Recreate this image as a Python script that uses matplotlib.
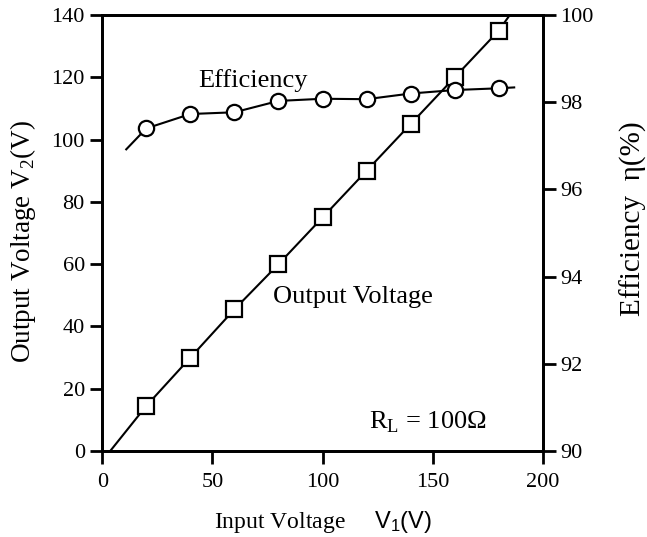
import matplotlib.pyplot as plt

# data
v_in = [20, 40, 60, 80, 100, 120, 140, 160, 180]
v_out = [14.5, 30, 45.5, 60, 75, 90, 105, 120, 135]
eff = [97.40, 97.73, 97.77, 98.03, 98.08, 98.07, 98.20, 98.28, 98.32]

# line extensions beyond the measured points
vout_line_x = [3.6] + v_in + [185]
vout_line_y = [0] + v_out + [140]
eff_line_x = [10.9] + v_in + [187]
eff_line_y = [96.92] + eff + [98.34]

plt.rcParams["font.family"] = ["Liberation Serif", "DejaVu Serif"]
plt.rcParams["mathtext.fontset"] = "custom"
plt.rcParams["mathtext.rm"] = "Liberation Serif"
plt.rcParams["mathtext.sf"] = "Liberation Sans"

fig = plt.figure(figsize=(6.47, 5.37), dpi=100)
ax = fig.add_axes([0.158, 0.160, 0.681, 0.812])
ax2 = ax.twinx()

ax.plot(vout_line_x, vout_line_y, color="black", lw=1.5, zorder=2)
ax.plot(v_in, v_out, ls="none", marker="s", ms=11, mfc="white", mec="black", mew=1.6, zorder=3)

ax2.plot(eff_line_x, eff_line_y, color="black", lw=1.5, zorder=2)
ax2.plot(v_in, eff, ls="none", marker="o", ms=11, mfc="white", mec="black", mew=1.6, zorder=3)

ax.set_xlim(0, 200)
ax.set_ylim(0, 140)
ax2.set_ylim(90, 100)
ax.set_xticks([0, 50, 100, 150, 200])
ax.set_yticks(range(0, 141, 20))
ax2.set_yticks(range(90, 101, 2))

for a in (ax, ax2):
    for sp in a.spines.values():
        sp.set_linewidth(2)
    a.tick_params(labelsize=16, width=2, length=9, direction="out")
ax.tick_params(axis="x", pad=7)

ax.set_xlabel("Input Voltage     $\\mathsf{V_1(V)}$", fontsize=17, va="center")
ax.xaxis.set_label_coords(0.5, -0.163)
ax.set_ylabel("Output Voltage V$_{2}$(V)", fontsize=19.5, va="center")
ax.yaxis.set_label_coords(-0.179, 0.482)
ax2.set_ylabel("Efficiency  η(%)", fontsize=21, va="center", rotation=90)
ax2.yaxis.set_label_coords(1.206, 0.532)

ax.text(68.5, 119, "Efficiency", fontsize=19, ha="center", va="center")
ax.text(114, 49.5, "Output Voltage", fontsize=19, ha="center", va="center")
ax.text(148, 9.3, "R$_{\\rm L}$ = 100Ω", fontsize=19, ha="center", va="center")

fig.savefig("out.png", dpi=100)
